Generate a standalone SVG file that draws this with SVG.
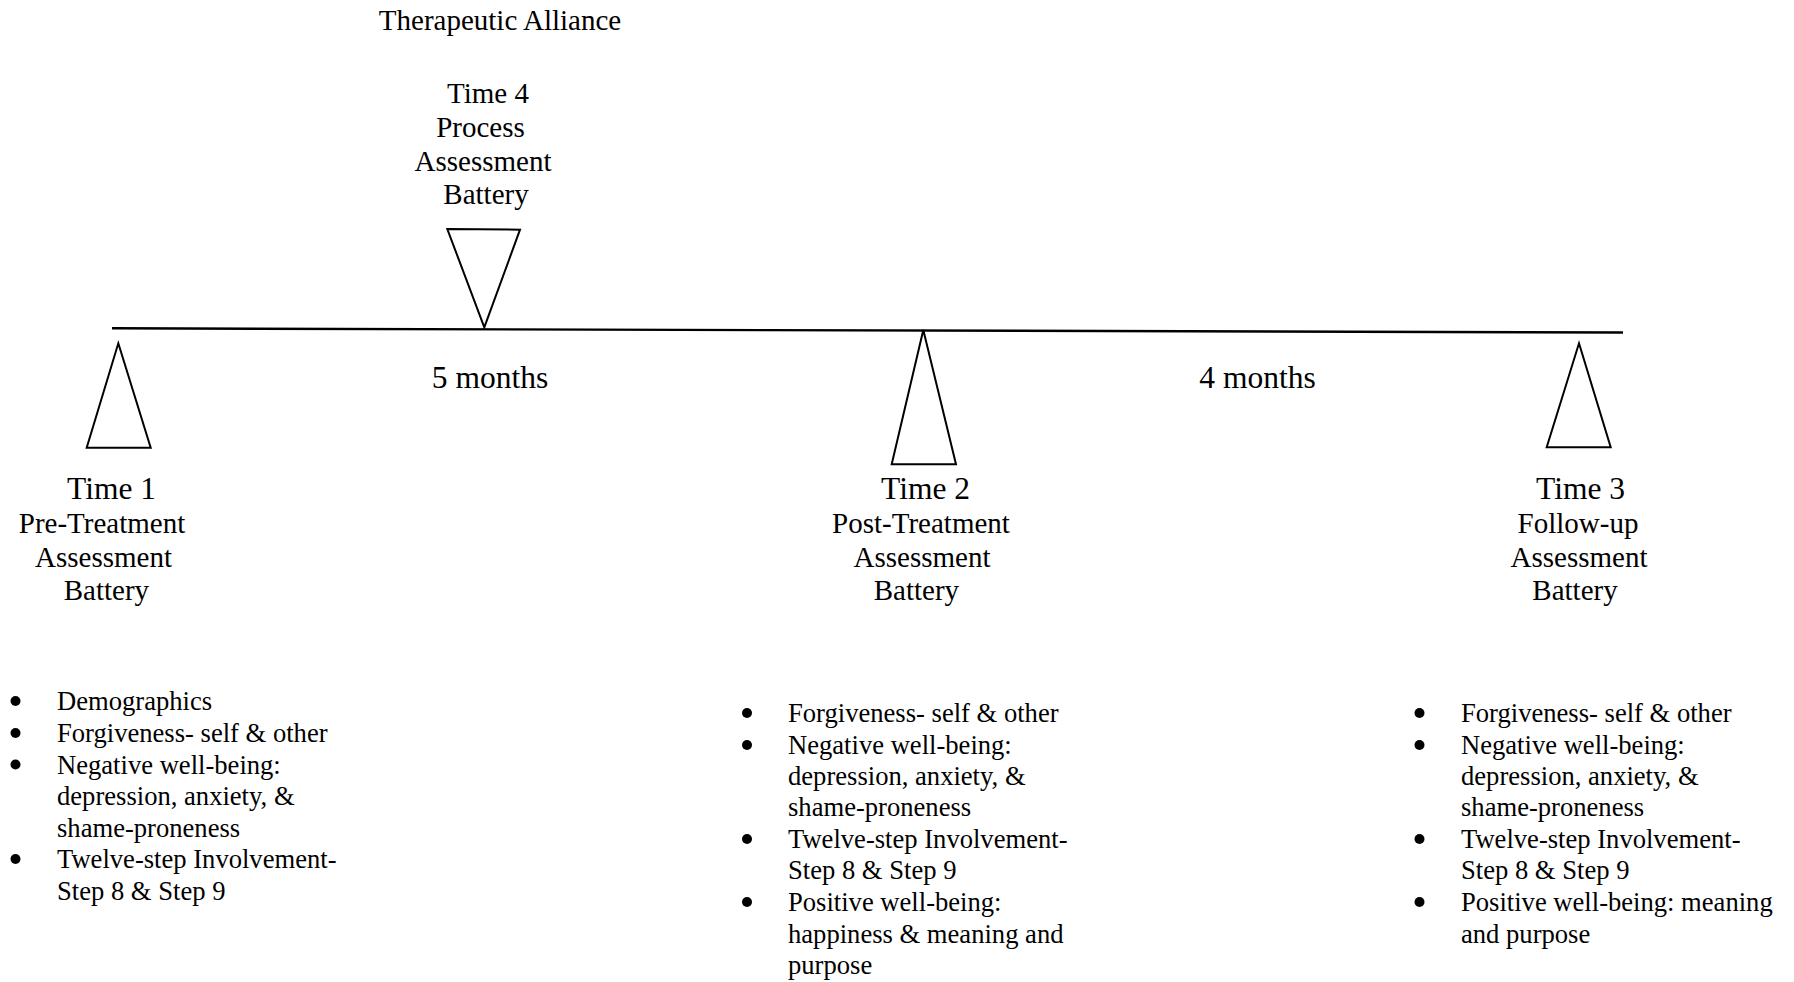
<svg xmlns="http://www.w3.org/2000/svg" width="1794" height="982" viewBox="0 0 1794 982">
<style>
text{font-family:"Liberation Serif","Times New Roman",serif;fill:#000}
.big{font-size:31.5px}
.mid{font-size:29px}
.li{font-size:26.6px}
.c{text-anchor:middle}
.tri{fill:#fff;stroke:#000;stroke-width:2;stroke-linejoin:miter}
.dot{fill:#000}
</style>
<rect width="1794" height="982" fill="#fff"/>
<g id="connectors">
<line x1="112" y1="328.3" x2="1623" y2="332.5" stroke="#000" stroke-width="2.4"/>
</g>
<g id="time4">
<text class="mid" x="500" y="30" text-anchor="middle">Therapeutic Alliance</text>
<polygon class="tri" points="447.3,229 520,229.7 484.3,327.3"/>
<text class="mid c" x="488" y="103">Time 4</text>
<text class="mid c" x="480.5" y="137">Process</text>
<text class="mid c" x="483" y="171">Assessment</text>
<text class="mid c" x="486" y="204">Battery</text>
</g>
<g id="interval1"><text class="big c" x="490" y="388">5 months</text></g>
<g id="interval2"><text class="big c" x="1257.5" y="388">4 months</text></g>
<g id="time1">
<polygon class="tri" points="118.3,343.3 150.7,447.7 86.7,447.7"/>
<text class="big c" x="111.5" y="499">Time 1</text>
<text class="mid c" x="102" y="533">Pre-Treatment</text>
<text class="mid c" x="103.5" y="567">Assessment</text>
<text class="mid c" x="106.4" y="600">Battery</text>
</g>
<g id="time2">
<polygon class="tri" points="923.3,330 956,464.3 891.7,464.3"/>
<text class="big c" x="925.5" y="499">Time 2</text>
<text class="mid c" x="921" y="533">Post-Treatment</text>
<text class="mid c" x="922" y="567">Assessment</text>
<text class="mid c" x="916.4" y="600">Battery</text>
</g>
<g id="time3">
<polygon class="tri" points="1579,343.3 1610.7,447.3 1546.7,447.3"/>
<text class="big c" x="1580.6" y="499">Time 3</text>
<text class="mid c" x="1578" y="533">Follow-up</text>
<text class="mid c" x="1579" y="567">Assessment</text>
<text class="mid c" x="1575" y="600">Battery</text>
</g>
<g id="list1">
<circle class="dot" cx="15.5" cy="701" r="5"/>
<circle class="dot" cx="15.5" cy="733" r="5"/>
<circle class="dot" cx="15.5" cy="764.5" r="5"/>
<circle class="dot" cx="15.5" cy="859" r="5"/>
<text class="li" x="57" y="710">Demographics</text>
<text class="li" x="57" y="742">Forgiveness- self &amp; other</text>
<text class="li" x="57" y="773.5">Negative well-being:</text>
<text class="li" x="57" y="805">depression, anxiety, &amp;</text>
<text class="li" x="57" y="836.5">shame-proneness</text>
<text class="li" x="57" y="868">Twelve-step Involvement-</text>
<text class="li" x="57" y="899.5">Step 8 &amp; Step 9</text>
</g>
<g id="list2">
<circle class="dot" cx="747" cy="713" r="5"/>
<circle class="dot" cx="747" cy="745" r="5"/>
<circle class="dot" cx="747" cy="839" r="5"/>
<circle class="dot" cx="747" cy="902" r="5"/>
<text class="li" x="788" y="722">Forgiveness- self &amp; other</text>
<text class="li" x="788" y="754">Negative well-being:</text>
<text class="li" x="788" y="785">depression, anxiety, &amp;</text>
<text class="li" x="788" y="816">shame-proneness</text>
<text class="li" x="788" y="848">Twelve-step Involvement-</text>
<text class="li" x="788" y="879">Step 8 &amp; Step 9</text>
<text class="li" x="788" y="911">Positive well-being:</text>
<text class="li" x="788" y="943">happiness &amp; meaning and</text>
<text class="li" x="788" y="974">purpose</text>
</g>
<g id="list3">
<circle class="dot" cx="1419.5" cy="713" r="5"/>
<circle class="dot" cx="1419.5" cy="745" r="5"/>
<circle class="dot" cx="1419.5" cy="839" r="5"/>
<circle class="dot" cx="1419.5" cy="902" r="5"/>
<text class="li" x="1461" y="722">Forgiveness- self &amp; other</text>
<text class="li" x="1461" y="754">Negative well-being:</text>
<text class="li" x="1461" y="785">depression, anxiety, &amp;</text>
<text class="li" x="1461" y="816">shame-proneness</text>
<text class="li" x="1461" y="848">Twelve-step Involvement-</text>
<text class="li" x="1461" y="879">Step 8 &amp; Step 9</text>
<text class="li" x="1461" y="911">Positive well-being: meaning</text>
<text class="li" x="1461" y="943">and purpose</text>
</g>
</svg>
